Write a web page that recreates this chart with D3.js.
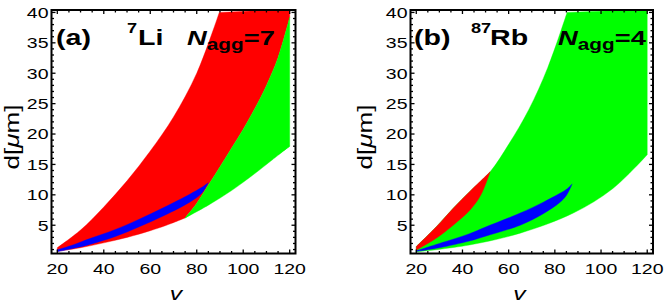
<!DOCTYPE html>
<html><head><meta charset="utf-8">
<script src="https://cdn.jsdelivr.net/npm/d3@7"></script>
<style>body{margin:0;background:#fff}</style>
</head><body><svg id="c" width="664" height="306"></svg>
<script>
// ---------- data ----------
const xTicks = [20, 40, 60, 80, 100, 120];
const yTicks = [5, 10, 15, 20, 25, 30, 35, 40];
const xMinor = [25,30,35,45,50,55,65,70,75,85,90,95,105,110,115];
const yMinor = [1,2,3,4,6,7,8,9,11,12,13,14,16,17,18,19,21,22,23,24,26,27,28,29,31,32,33,34,36,37,38,39];

// panel (a) 7Li
const aRedUpper   = [[20,1.3],[30,4.2],[40,8.0],[50,12.3],[60,17.2],[70,22.8],[80,30.0],[89.7,40]];
const aRedLower   = [[20,0.7],[30,1.3],[40,2.1],[50,3.0],[60,4.1],[67,5.0],[75,6.2]];
const aSplit      = [[75,6.2],[80,8.6],[85,11.6],[90,14.6],[95,17.7],[100,20.8],[105,24.2],[110,28.0],[115,32.6],[120,39.2]];
const aGreenLower = [[75,6.2],[85,8.3],[95,10.7],[105,13.5],[112,15.6],[120,18]];
const aBlueUpper  = [[20,0.95],[27,1.8],[34,2.8],[45,4.3],[55,5.95],[66,7.95],[77,10.1],[82,11.2],[85,12.0]];
const aBlueLower  = [[20,0.65],[27,1.2],[34,1.85],[45,3.15],[55,4.7],[66,6.6],[77,8.8],[82,10.2],[85,12.0]];

// panel (b) 87Rb
const bRedUpper   = [[20,1.5],[28.8,4.8],[36,7.8],[43.3,10.6],[52,13.8]];
const bRedLower   = [[20,0.9],[28.8,2.9],[36,5.0],[43.3,7.5],[48,10.0],[52,13.8]];
const bGreenUpper = [[52,13.8],[60,18.3],[68.7,24.0],[77,31.0],[85.3,40]];
const bGreenLower = [[20,0.6],[43,1.75],[65,3.7],[88,7.0],[105,11.0],[120,16.6]];
const bBlueUpper  = [[20,0.8],[30,2.0],[43,3.6],[50,4.7],[65,7.0],[75,8.8],[82,10.2],[85,10.9],[87.5,11.8]];
const bBlueLower  = [[20,0.7],[30,1.3],[43,2.4],[50,3.2],[65,5.0],[75,6.9],[82,8.7],[85,9.9],[87.5,11.8]];

const RED = "#ff0000", GREEN = "#00ff00", BLUE = "#0000ff";
const FONT = "'Liberation Sans', Arial, sans-serif";
const SX = 1.3; // glyph stretch along the reading direction

const svg = d3.select("#c");

function panel(left, right, id) {
  const top = 10, bottom = 253.5;
  const x = d3.scaleLinear().domain([17.5, 122.5]).range([left, right]);
  const y = d3.scaleLinear().domain([0.35, 40.4]).range([bottom, top]);
  const g = svg.append("g");
  g.append("clipPath").attr("id", "clip" + id).append("rect")
    .attr("x", left).attr("y", top).attr("width", right - left).attr("height", bottom - top);
  const plot = g.append("g").attr("clip-path", `url(#clip${id})`);
  return {x, y, g, plot, top, bottom, left, right};
}

function region(P, parts, color) {
  const line = d3.line().x(d => P.x(d[0])).y(d => P.y(d[1])).curve(d3.curveCatmullRom.alpha(0.5));
  let s = "";
  parts.forEach((pts, i) => {
    let seg = line(pts);
    if (i > 0) seg = "L" + seg.slice(1);
    s += seg;
  });
  P.plot.append("path").attr("d", s + "Z").attr("fill", color).attr("stroke", color).attr("stroke-width", 0.4);
}
const rev = a => a.slice().reverse();

function stretchedText(x, y, size, pieces) {
  const t = svg.append("text")
    .attr("transform", `translate(${x},${y}) scale(${SX},1)`)
    .attr("font-family", FONT).attr("font-size", size).attr("fill", "#000");
  pieces.forEach(p => {
    const ts = t.append("tspan").text(p.t);
    if (p.size) ts.attr("font-size", p.size);
    if (p.weight) ts.attr("font-weight", p.weight);
    if (p.style) ts.attr("font-style", p.style);
    if (p.dy !== undefined) ts.attr("dy", p.dy);
  });
  return t;
}

function axes(P) {
  const g = P.g;
  xTicks.forEach(v => {
    g.append("text").attr("transform", `translate(${P.x(v)},${273.5}) scale(${SX},1)`)
      .attr("text-anchor", "middle").attr("font-family", FONT).attr("font-size", 15).text(v);
  });
  yTicks.forEach(v => {
    g.append("text").attr("transform", `translate(${P.left - 3},${P.y(v) + 5.3}) scale(${SX},1)`)
      .attr("text-anchor", "end").attr("font-family", FONT).attr("font-size", 15).text(v);
  });
  const tk = g.append("g").attr("stroke", "#000").attr("stroke-width", 1.3);
  xTicks.forEach(v => {
    tk.append("line").attr("x1", P.x(v)).attr("x2", P.x(v)).attr("y1", P.bottom).attr("y2", P.bottom - 4);
    tk.append("line").attr("x1", P.x(v)).attr("x2", P.x(v)).attr("y1", P.top).attr("y2", P.top + 4);
  });
  xMinor.forEach(v => {
    tk.append("line").attr("x1", P.x(v)).attr("x2", P.x(v)).attr("y1", P.bottom).attr("y2", P.bottom - 2.5);
    tk.append("line").attr("x1", P.x(v)).attr("x2", P.x(v)).attr("y1", P.top).attr("y2", P.top + 2.5);
  });
  yTicks.forEach(v => {
    tk.append("line").attr("y1", P.y(v)).attr("y2", P.y(v)).attr("x1", P.left).attr("x2", P.left + 4);
    tk.append("line").attr("y1", P.y(v)).attr("y2", P.y(v)).attr("x1", P.right).attr("x2", P.right - 4);
  });
  yMinor.forEach(v => {
    tk.append("line").attr("y1", P.y(v)).attr("y2", P.y(v)).attr("x1", P.left).attr("x2", P.left + 2.5);
    tk.append("line").attr("y1", P.y(v)).attr("y2", P.y(v)).attr("x1", P.right).attr("x2", P.right - 2.5);
  });
  g.append("rect").attr("x", P.left).attr("y", P.top).attr("width", P.right - P.left)
    .attr("height", P.bottom - P.top).attr("fill", "none").attr("stroke", "#000").attr("stroke-width", 2);
}

// ---------- panel (a) ----------
const A = panel(51.5, 295.5, "a");
region(A, [aRedUpper, [[120,40.5],[120,39.2]], rev(aSplit), rev(aRedLower)], RED);
region(A, [aSplit, [[120,18]], rev(aGreenLower)], GREEN);
region(A, [aBlueUpper, rev(aBlueLower)], BLUE);
axes(A);

// ---------- panel (b) ----------
const B = panel(410.5, 653, "b");
region(B, [bRedUpper.concat(bGreenUpper.slice(1)), [[120,40.5],[120,16.6]], rev(bGreenLower)], GREEN);
region(B, [bRedUpper, rev(bRedLower)], RED);
region(B, [bBlueUpper, rev(bBlueLower)], BLUE);
axes(B);

// ---------- axis titles ----------
[[176, 19], [519.5, 372]].forEach(([vx, dx]) => {
  svg.append("text").attr("transform", `translate(${vx},${300}) scale(${SX},1)`)
    .attr("text-anchor", "middle").attr("font-family", FONT).attr("font-size", 19)
    .attr("font-style", "italic").text("v");
  const t = svg.append("text").attr("transform", `translate(${dx},${137}) rotate(-90) scale(${SX},1)`)
    .attr("text-anchor", "middle").attr("font-family", FONT).attr("font-size", 20);
  t.append("tspan").text("d[");
  t.append("tspan").attr("font-style", "italic").text("μ");
  t.append("tspan").text("m]");
});

// ---------- annotations ----------
stretchedText(56, 45, 22, [{t: "(a)", weight: "bold"}]);
stretchedText(127, 33, 14, [{t: "7", weight: "bold"}]);
stretchedText(138, 45, 22, [{t: "Li", weight: "bold"}]);
stretchedText(187, 45, 21, [{t: "N", weight: "bold", style: "italic"},
  {t: "agg", weight: "bold", size: 16, dy: 5}, {t: "=7", weight: "bold", dy: -5}]);

stretchedText(414, 45, 22, [{t: "(b)", weight: "bold"}]);
stretchedText(471, 33, 14, [{t: "87", weight: "bold"}]);
stretchedText(490, 45, 22, [{t: "Rb", weight: "bold"}]);
stretchedText(558, 45, 21, [{t: "N", weight: "bold", style: "italic"},
  {t: "agg", weight: "bold", size: 16, dy: 5}, {t: "=4", weight: "bold", dy: -5}]);
</script></body></html>
